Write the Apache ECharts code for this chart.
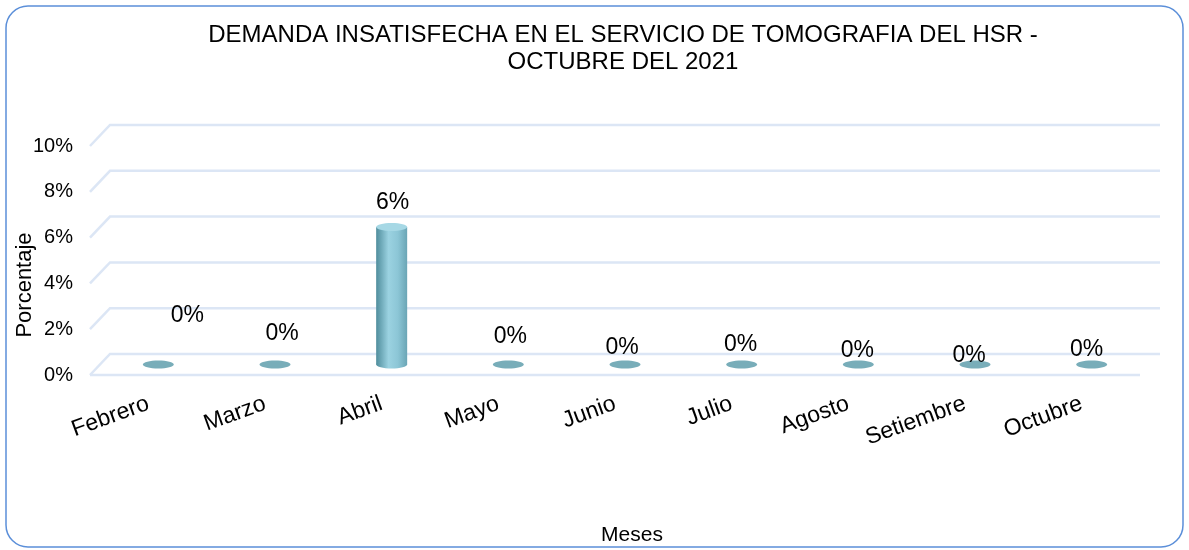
<!DOCTYPE html>
<html>
<head>
<meta charset="utf-8">
<script src="https://cdn.jsdelivr.net/npm/echarts@6/dist/echarts.min.js"></script>
<style>
  html, body { margin: 0; padding: 0; background: #fff; }
  #chart { width: 1189px; height: 550px; }
</style>
</head>
<body>
<div id="chart"></div>
<script>
// Data
const months = ['Febrero', 'Marzo', 'Abril', 'Mayo', 'Junio', 'Julio', 'Agosto', 'Setiembre', 'Octubre'];
const demand = [0, 0, 0.06, 0, 0, 0, 0, 0, 0];
const yTicks = [0, 0.02, 0.04, 0.06, 0.08, 0.10];

// Excel-like 3D look: depth offset of back wall and label nudges (style only)
const DEPTH_X = 20;
const DEPTH_Y = 21;
const labelNudge = [[29, -49], [7, -31], [1, -24], [2, -28], [-3, -17], [-1, -20], [-1, -14], [-6, -9], [-5, -15]];

const FONT = 'Liberation Sans, Arial, sans-serif';
const chart = echarts.init(document.getElementById('chart'));

const pct = v => Math.round(v * 100) + '%';

const option = {
  animation: false,
  backgroundColor: '#fff',
  textStyle: { fontFamily: FONT },
  graphic: [
    {
      type: 'rect',
      shape: { x: 6, y: 6, width: 1177, height: 541, r: 22 },
      style: { fill: 'none', stroke: '#5b8fd9', lineWidth: 1.5 },
      z: 0
    },
    {
      type: 'text',
      x: 25,
      y: 285,
      rotation: Math.PI / 2,
      style: { text: 'Porcentaje', fontSize: 22, fontFamily: FONT, fill: '#000', align: 'center', verticalAlign: 'middle' }
    },
    {
      type: 'text',
      x: 632,
      y: 535,
      style: { text: 'Meses', fontSize: 21, fontFamily: FONT, fill: '#000', align: 'center', verticalAlign: 'middle' }
    }
  ],
  title: {
    text: 'DEMANDA INSATISFECHA EN EL SERVICIO DE TOMOGRAFIA DEL HSR -\nOCTUBRE DEL 2021',
    left: 618,
    top: 17,
    textAlign: 'center',
    textStyle: { fontSize: 24, fontWeight: 'normal', color: '#000', lineHeight: 27 }
  },
  grid: { left: 90, width: 1050, top: 146, height: 229, outerBoundsMode: 'none' },
  xAxis: {
    type: 'category',
    data: months,
    axisLine: { show: false },
    axisTick: { show: false },
    axisLabel: { rotate: 20, margin: 28, fontSize: 23, color: '#000' }
  },
  yAxis: {
    type: 'value',
    min: 0,
    max: 0.1,
    interval: 0.02,
    axisLine: { show: false },
    axisTick: { show: false },
    splitLine: { show: false },
    axisLabel: { formatter: pct, fontSize: 20, margin: 17, color: '#000' }
  },
  series: [
    {
      // perspective grid lines
      type: 'custom',
      silent: true,
      z: 1,
      data: yTicks.map(v => [0, v]),
      encode: { x: 0, y: 1 },
      renderItem: function (params, api) {
        const rect = params.coordSys;
        const y = api.coord([0, api.value(1)])[1];
        const pts = [
          [rect.x, y],
          [rect.x + DEPTH_X, y - DEPTH_Y],
          [rect.x + rect.width + DEPTH_X, y - DEPTH_Y]
        ];
        const children = [{
          type: 'polyline',
          shape: { points: pts },
          style: { stroke: '#dce6f5', lineWidth: 2.5, fill: 'none' }
        }];
        if (api.value(1) === 0) {
          children.push({
            type: 'line',
            shape: { x1: rect.x, y1: y, x2: rect.x + rect.width, y2: y },
            style: { stroke: '#dce6f5', lineWidth: 2.5 }
          });
        }
        return { type: 'group', children: children };
      }
    },
    {
      // cylinders
      type: 'custom',
      z: 3,
      data: demand.map((v, i) => [i, v]),
      encode: { x: 0, y: 1 },
      renderItem: function (params, api) {
        const i = api.value(0);
        const v = api.value(1);
        const base = api.coord([i, 0]);
        const top = api.coord([i, v]);
        const cx = base[0] + DEPTH_X / 2;
        const y0 = base[1] - DEPTH_Y / 2;
        const y1 = top[1] - DEPTH_Y / 2;
        const rx = 15.5;
        const ry = 4;
        const children = [];
        if (y0 - y1 > 1) {
          const side = new echarts.graphic.LinearGradient(0, 0, 1, 0, [
            { offset: 0, color: '#4f8d9c' },
            { offset: 0.4, color: '#9bd2e1' },
            { offset: 0.7, color: '#8cc6d6' },
            { offset: 1, color: '#6aa5b5' }
          ]);
          children.push({
            type: 'rect',
            shape: { x: cx - rx, y: y1, width: rx * 2, height: y0 - y1 },
            style: { fill: side }
          });
          children.push({
            type: 'ellipse',
            shape: { cx: cx, cy: y0, rx: rx, ry: ry },
            style: { fill: side }
          });
          children.push({
            type: 'ellipse',
            shape: { cx: cx, cy: y1, rx: rx, ry: ry },
            style: { fill: '#a6d8e5' }
          });
        } else {
          children.push({
            type: 'ellipse',
            shape: { cx: cx, cy: y0, rx: rx, ry: ry },
            style: { fill: '#78adb9' }
          });
        }
        const nudge = labelNudge[i];
        children.push({
          type: 'text',
          style: {
            text: pct(v),
            x: cx + nudge[0],
            y: y1 + nudge[1],
            align: 'center',
            verticalAlign: 'middle',
            fontSize: 23,
            fontFamily: FONT,
            fill: '#000'
          }
        });
        return { type: 'group', children: children };
      }
    }
  ]
};

chart.setOption(option);
</script>
</body>
</html>
